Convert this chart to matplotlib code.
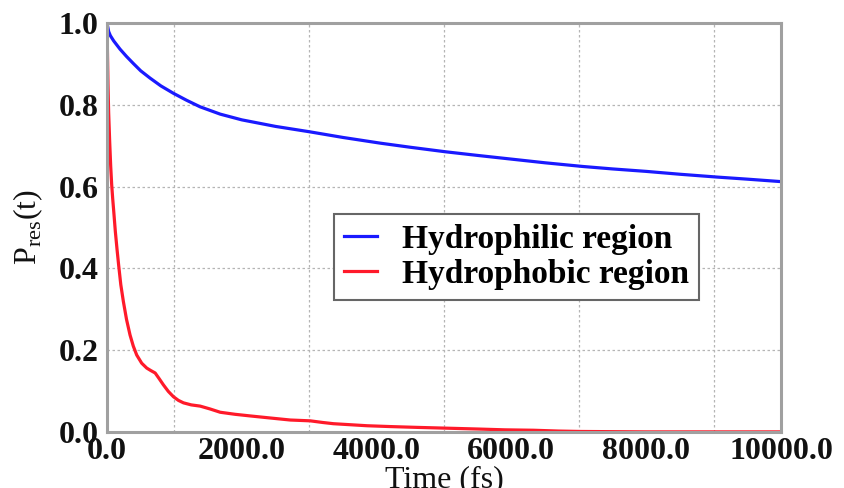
import matplotlib
matplotlib.use("Agg")
import matplotlib.pyplot as plt
from matplotlib.ticker import FormatStrFormatter, MultipleLocator

plt.rcParams['font.family'] = ['Liberation Serif', 'DejaVu Serif']
plt.rcParams['mathtext.fontset'] = 'custom'
plt.rcParams['mathtext.rm'] = 'Liberation Serif'

# residence probability
t_phil = [0, 25, 50, 100, 193, 290, 390, 500, 640, 800, 985, 1180, 1380, 1680,
          2000, 2500, 3000, 3500, 4056, 4500, 5020, 5500, 6000, 6500, 7060,
          7500, 8000, 8500, 9060, 9500, 10000]
p_phil = [1.0, 0.979, 0.969, 0.956, 0.936, 0.918, 0.901, 0.883, 0.865, 0.846,
          0.828, 0.811, 0.795, 0.777, 0.763, 0.747, 0.734, 0.72, 0.706, 0.696,
          0.685, 0.676, 0.667, 0.658, 0.649, 0.643, 0.637, 0.63, 0.623, 0.618,
          0.612]

t_phob = [0, 5, 15, 25, 40, 55, 70, 85, 100, 124, 150, 173, 205, 243, 290,
          342, 390, 441, 515, 590, 650, 715, 775, 837, 910, 986, 1060, 1135,
          1250, 1383, 1530, 1680, 1900, 2125, 2420, 2720, 3016, 3200, 3360,
          3860, 4200, 4600, 5050, 5500, 5900, 6330, 6700, 7030, 8000, 10000]
p_phob = [1.0, 0.95, 0.85, 0.78, 0.71, 0.65, 0.604, 0.57, 0.54, 0.49, 0.445,
          0.408, 0.36, 0.319, 0.275, 0.237, 0.21, 0.188, 0.168, 0.156, 0.15,
          0.144, 0.13, 0.115, 0.099, 0.086, 0.077, 0.071, 0.066, 0.063, 0.056,
          0.048, 0.043, 0.039, 0.034, 0.029, 0.027, 0.023, 0.02, 0.015, 0.013,
          0.011, 0.009, 0.007, 0.005, 0.004, 0.002, 0.001, 0.0, 0.0]

labels = ['Hydrophilic region', 'Hydrophobic region']

fig = plt.figure(figsize=(8.45, 4.88), dpi=100)
ax = fig.add_axes([0.1266, 0.115, 0.7976, 0.838])

ax.plot(t_phil, p_phil, color='#1a1aff', lw=2.3, label=labels[0])
ax.plot(t_phob, p_phob, color='#ff1a2a', lw=2.3, label=labels[1])

ax.set_xlim(0, 10000)
ax.set_ylim(0, 1.0)
ax.xaxis.set_major_locator(MultipleLocator(2000))
ax.xaxis.set_minor_locator(MultipleLocator(2000, offset=1000))
ax.yaxis.set_major_locator(MultipleLocator(0.2))
ax.xaxis.set_major_formatter(FormatStrFormatter('%.1f'))
ax.yaxis.set_major_formatter(FormatStrFormatter('%.1f'))

ax.grid(False)
ax.grid(True, axis='x', which='minor', color='#b5b5b5', lw=0.9, ls=(0, (2, 2)))
ax.grid(True, axis='y', which='major', color='#b5b5b5', lw=0.9, ls=(0, (2, 2)))
ax.set_axisbelow(True)

ax.tick_params(which='both', length=0)
ax.tick_params(axis='y', pad=6)
ax.tick_params(axis='x', pad=4)
for lab in ax.get_xticklabels() + ax.get_yticklabels():
    lab.set_fontsize(23)
    lab.set_fontweight('bold')
    lab.set_color('#111111')

for sp in ax.spines.values():
    sp.set_color('#a0a0a0')
    sp.set_linewidth(2.2)

ax.set_xlabel('Time (fs)', fontsize=23, labelpad=-1, color='#111111')
ax.set_ylabel('P$_{\\rm res}$(t)', fontsize=23, labelpad=10, color='#111111')

leg = ax.legend(loc='lower left', bbox_to_anchor=(0.337, 0.323), borderaxespad=0,
                prop={'size': 24, 'weight': 'bold'}, fancybox=False,
                handlelength=1.0, handletextpad=0.75, borderpad=0.3,
                labelspacing=0.12, framealpha=1)
leg.get_frame().set_edgecolor('#666666')
leg.get_frame().set_linewidth(1.5)

fig.savefig('out.png', dpi=100)
